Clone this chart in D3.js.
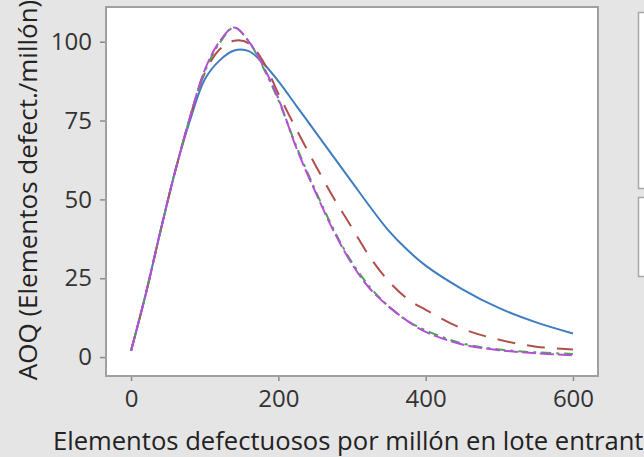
<!DOCTYPE html>
<html>
<head>
<meta charset="utf-8">
<script src="https://cdn.jsdelivr.net/npm/d3@7"></script>
<style>
  html, body { margin: 0; padding: 0; background: #e5e5e5; overflow: hidden; }
  svg { display: block; font-family: "Open Sans", "Noto Sans", sans-serif; }
</style>
</head>
<body>
<script>
const width = 644;
const height = 457;
const margin = { top: 7, right: 46, bottom: 81, left: 106 };

// lot fraction defective (ppm)
const ppm = [0, 20, 40, 60, 80, 100, 120, 140, 160, 180, 200, 225, 250, 275, 300, 325, 350, 375, 400, 450, 500, 550, 600];

// AOQ for each plan
const aoqBlue   = [2, 20, 40, 59, 75, 88, 94, 97.2, 97, 93, 87.5, 79.5, 71.5, 63.5, 55.5, 47.5, 40, 34, 29, 21.5, 15.5, 11, 7.5];
const aoqRed    = [2, 20, 40, 59, 76, 90, 97.5, 100.3, 99.5, 93.5, 83.5, 72, 61, 50.5, 41, 31.5, 24, 18.5, 15, 9, 5.5, 3.3, 2.4];
const aoqGreen  = [2, 20, 40, 59, 76, 90.5, 99.5, 104.5, 100, 91.5, 81.5, 66.5, 53, 40.5, 30, 22, 16, 11.5, 8.5, 4.3, 2.4, 1.5, 1.0];
const aoqPurple = [2, 20, 40, 59, 76, 91, 100, 104.5, 100, 92, 82, 66, 52.5, 40, 29.5, 21.5, 16, 11.5, 8, 4, 2.2, 1.2, 0.6];

const xTicks = [0, 200, 400, 600];
const yTicks = [0, 25, 50, 75, 100];

const series = [
  { name: "blue",   values: aoqBlue,   color: "#3f7dc1", dash: null },
  { name: "red",    values: aoqRed,    color: "#b0504a", dash: "18,12" },
  { name: "green",  values: aoqGreen,  color: "#46a84e", dash: "10,5,3,5" },
  { name: "purple", values: aoqPurple, color: "#b44fd8", dash: "14,4" }
];

const svg = d3.select("body").append("svg")
  .attr("width", width)
  .attr("height", height);

const innerWidth = width - margin.left - margin.right;
const innerHeight = height - margin.top - margin.bottom;

var x = d3.scaleLinear()
  .domain([-34, 634])
  .range([margin.left, margin.left + innerWidth]);

var y = d3.scaleLinear()
  .domain([-6, 111])
  .range([margin.top + innerHeight, margin.top]);

// legend boxes peeking in on the right
svg.append("rect")
  .attr("x", 638.5).attr("y", 12.5)
  .attr("width", 40).attr("height", 176)
  .attr("fill", "#fff").attr("stroke", "#a8a8a8").attr("stroke-width", 1.5);
svg.append("rect")
  .attr("x", 638.5).attr("y", 197.5)
  .attr("width", 40).attr("height", 79)
  .attr("fill", "#fff").attr("stroke", "#a8a8a8").attr("stroke-width", 1.5);

// plot area
svg.append("rect")
  .attr("x", margin.left).attr("y", margin.top)
  .attr("width", innerWidth).attr("height", innerHeight)
  .attr("fill", "#fff")
  .attr("stroke", "#a0a0a0")
  .attr("stroke-width", 2);

// axes
var xAxis = svg.append("g")
  .attr("transform", "translate(0," + (margin.top + innerHeight + 1) + ")")
  .call(d3.axisBottom(x).tickValues(xTicks).tickSize(4).tickPadding(9));

var yAxis = svg.append("g")
  .attr("transform", "translate(" + (margin.left - 1) + ",0)")
  .call(d3.axisLeft(y).tickValues(yTicks).tickSize(5).tickPadding(8));

[xAxis, yAxis].forEach(function (g) {
  g.select(".domain").remove();
  g.selectAll(".tick line").attr("stroke", "#8a8a8a").attr("stroke-width", 1.5);
  g.selectAll(".tick text")
    .attr("fill", "#333")
    .style("font-size", "24px")
    .style("font-family", "\"Open Sans\", sans-serif");
});

// curves
var line = d3.line()
  .x((d, i) => x(ppm[i]))
  .y(d => y(d))
  .curve(d3.curveCatmullRom.alpha(0.5));

svg.append("g")
  .selectAll("path")
  .data(series)
  .enter()
  .append("path")
  .attr("d", d => line(d.values))
  .attr("fill", "none")
  .attr("stroke", d => d.color)
  .attr("stroke-width", 2)
  .attr("stroke-dasharray", d => d.dash);

// axis titles
svg.append("text")
  .attr("x", 53)
  .attr("y", 450)
  .attr("fill", "#222")
  .style("font-size", "25.6px")
  .text("Elementos defectuosos por millón en lote entrante");

svg.append("text")
  .attr("transform", "translate(37,190) rotate(-90)")
  .attr("text-anchor", "middle")
  .attr("fill", "#222")
  .style("font-size", "26px")
  .text("AOQ (Elementos defect./millón)");
</script>
</body>
</html>
